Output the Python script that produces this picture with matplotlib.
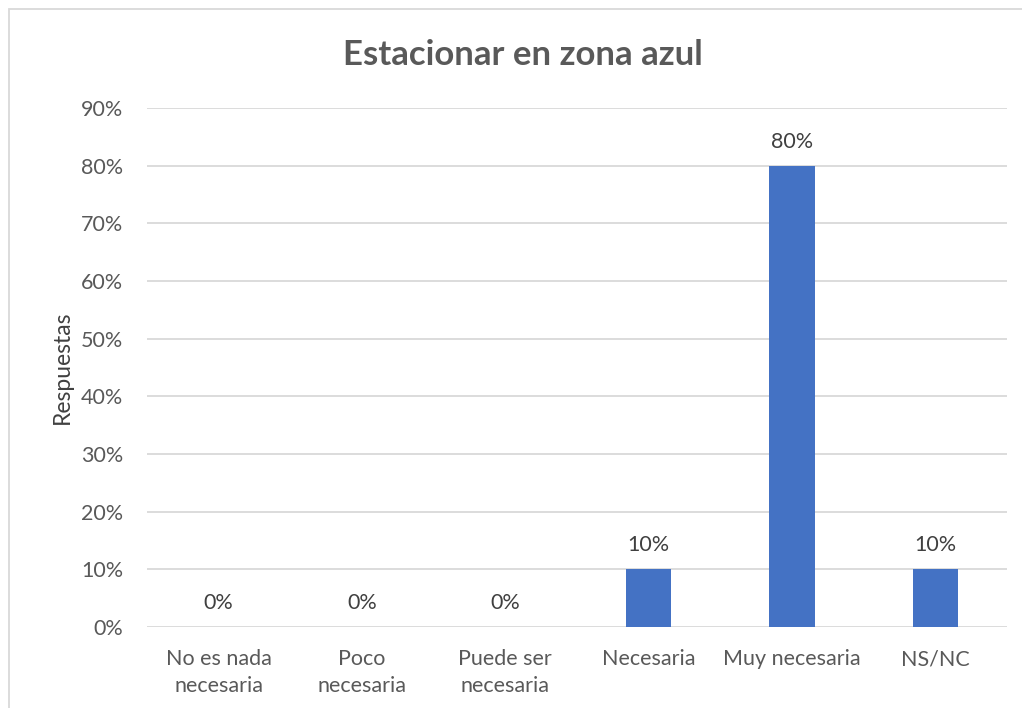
import matplotlib
matplotlib.use("Agg")
import matplotlib.pyplot as plt
from matplotlib.patches import Rectangle
from matplotlib.ticker import MultipleLocator, FuncFormatter

categories = ["No es nada\nnecesaria", "Poco\nnecesaria", "Puede ser\nnecesaria",
              "Necesaria", "Muy necesaria", "NS/NC"]
values = [0, 0, 0, 10, 80, 10]
title = "Estacionar en zona azul"
ylabel = "Respuestas"

plt.rcParams['font.family'] = ['Lato', 'DejaVu Sans']
txt = "#595959"

W, H = 1022, 708
fig = plt.figure(figsize=(W / 100, H / 100), dpi=100)
fig.patches.append(Rectangle((9 / W, -0.1), 1.2, 1 - 9 / H + 0.1, transform=fig.transFigure,
                             fill=False, edgecolor="#d9d9d9", linewidth=1.3))

ax = fig.add_axes([147 / W, 1 - 627 / H, (1007 - 147) / W, (627 - 108) / H])
x = list(range(len(categories)))
bars = ax.bar(x, values, width=0.314, color="#4472c4", zorder=3)
ax.set_xlim(-0.5, len(categories) - 0.5)
ax.set_ylim(0, 90)
ax.yaxis.set_major_locator(MultipleLocator(10))
ax.yaxis.set_major_formatter(FuncFormatter(lambda v, p: f"{v:.0f}%"))
ax.grid(axis="y", color="#d9d9d9", linewidth=1.3, zorder=0)
for s in ax.spines.values():
    s.set_visible(False)
ax.tick_params(axis="both", length=0, labelsize=15.5, colors=txt)
ax.tick_params(axis="y", pad=17)
ax.tick_params(axis="x", pad=16)
ax.set_xticks(x)
ax.set_xticklabels(categories, linespacing=1.45)
for b, v in zip(bars, values):
    ax.annotate(f"{v}%", (b.get_x() + b.get_width() / 2, v), xytext=(0, 10),
                textcoords="offset points", ha="center", va="bottom", fontsize=15.5, color="#404040")
ax.set_ylabel(ylabel, fontsize=16.5, color="#404040", labelpad=6)
fig.text(523 / W, 1 - 55 / H, title, ha="center", va="center", fontsize=25,
         fontweight="bold", color=txt)

fig.savefig("out.png", dpi=100)
